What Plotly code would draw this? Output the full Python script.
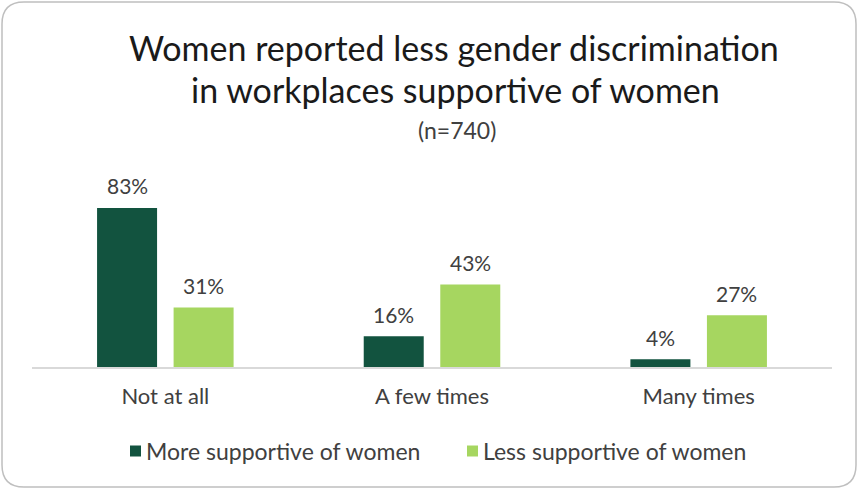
import plotly.graph_objects as go

categories = ["Not at all", "A few times", "Many times"]
series_names = ["More supportive of women", "Less supportive of women"]
more_supportive = [83, 16, 4]
less_supportive = [31, 43, 27]
colors = ["#12533f", "#a6d660"]

W, H = 859, 489
PX0, PX1, PY0, PY1 = 32, 832, 160, 367  # plot area in pixels
Y_MAX = 108


def px(x):
    return (x - PX0) / (PX1 - PX0)


def py(y):
    return (PY1 - y) / (PY1 - PY0)


FONT = "Lato"
TXT = "#404040"

fig = go.Figure()
for name, vals, col in zip(series_names, [more_supportive, less_supportive], colors):
    fig.add_trace(go.Bar(x=categories, y=vals, name=name, marker_color=col,
                         marker_line_width=0, showlegend=False))

annotations = []
# value labels above each bar
for vals, shift in zip([more_supportive, less_supportive], [-38.25, 38.25]):
    for c, v in zip(categories, vals):
        annotations.append(dict(x=c, y=v, xref="x", yref="y", text=f"{v}%",
                                showarrow=False, xshift=shift, yshift=22,
                                yanchor="middle",
                                font=dict(family=FONT, size=21, color=TXT)))

# title lines
annotations += [
    dict(x=px(454), y=py(47), xref="paper", yref="paper",
         text="Women reported less gender discrimination", showarrow=False,
         xanchor="center", yanchor="middle",
         font=dict(family=FONT, size=34, color="#1a1a1a")),
    dict(x=px(455), y=py(89), xref="paper", yref="paper",
         text="in workplaces supportive of women", showarrow=False,
         xanchor="center", yanchor="middle",
         font=dict(family=FONT, size=34, color="#1a1a1a")),
    dict(x=px(457), y=py(130), xref="paper", yref="paper",
         text="(n=740)", showarrow=False, xanchor="center", yanchor="middle",
         font=dict(family=FONT, size=23, color=TXT)),
]

shapes = []

# legend: colour swatch followed by the series name
LEG_Y = 451
for name, col, sx in zip(series_names, colors, [130, 467]):
    shapes.append(dict(type="rect", xref="paper", yref="paper",
                       x0=px(sx), x1=px(sx + 11), y0=py(LEG_Y + 5.5),
                       y1=py(LEG_Y - 5.5), fillcolor=col, line_width=0))
    annotations.append(dict(x=px(sx + 14), y=py(LEG_Y), xref="paper",
                            yref="paper", text=name, showarrow=False,
                            xanchor="left", yanchor="middle",
                            font=dict(family=FONT, size=23, color=TXT)))

# rounded outer frame
r = 22
x0, y0, x1, y1 = 2, 2, 856, 487
path = (f"M {px(x0 + r)},{py(y0)} L {px(x1 - r)},{py(y0)} "
        f"Q {px(x1)},{py(y0)} {px(x1)},{py(y0 + r)} "
        f"L {px(x1)},{py(y1 - r)} Q {px(x1)},{py(y1)} {px(x1 - r)},{py(y1)} "
        f"L {px(x0 + r)},{py(y1)} Q {px(x0)},{py(y1)} {px(x0)},{py(y1 - r)} "
        f"L {px(x0)},{py(y0 + r)} Q {px(x0)},{py(y0)} {px(x0 + r)},{py(y0)} Z")
shapes.append(dict(type="path", path=path, xref="paper", yref="paper",
                   line=dict(color="#bfbfbf", width=1.5), layer="below"))

fig.update_layout(
    width=W, height=H,
    margin=dict(l=PX0, r=W - PX1, t=PY0, b=H - PY1),
    paper_bgcolor="white", plot_bgcolor="white",
    barmode="group", bargap=0.426, bargroupgap=0.216,
    showlegend=False,
    annotations=annotations,
    shapes=shapes,
    xaxis=dict(showgrid=False, showline=True, linecolor="#d9d9d9", linewidth=2,
               ticks="", ticklabelstandoff=9,
               tickfont=dict(family=FONT, size=22, color=TXT)),
    yaxis=dict(range=[0, Y_MAX], visible=False, showgrid=False),
)

fig.write_html("out.html")
